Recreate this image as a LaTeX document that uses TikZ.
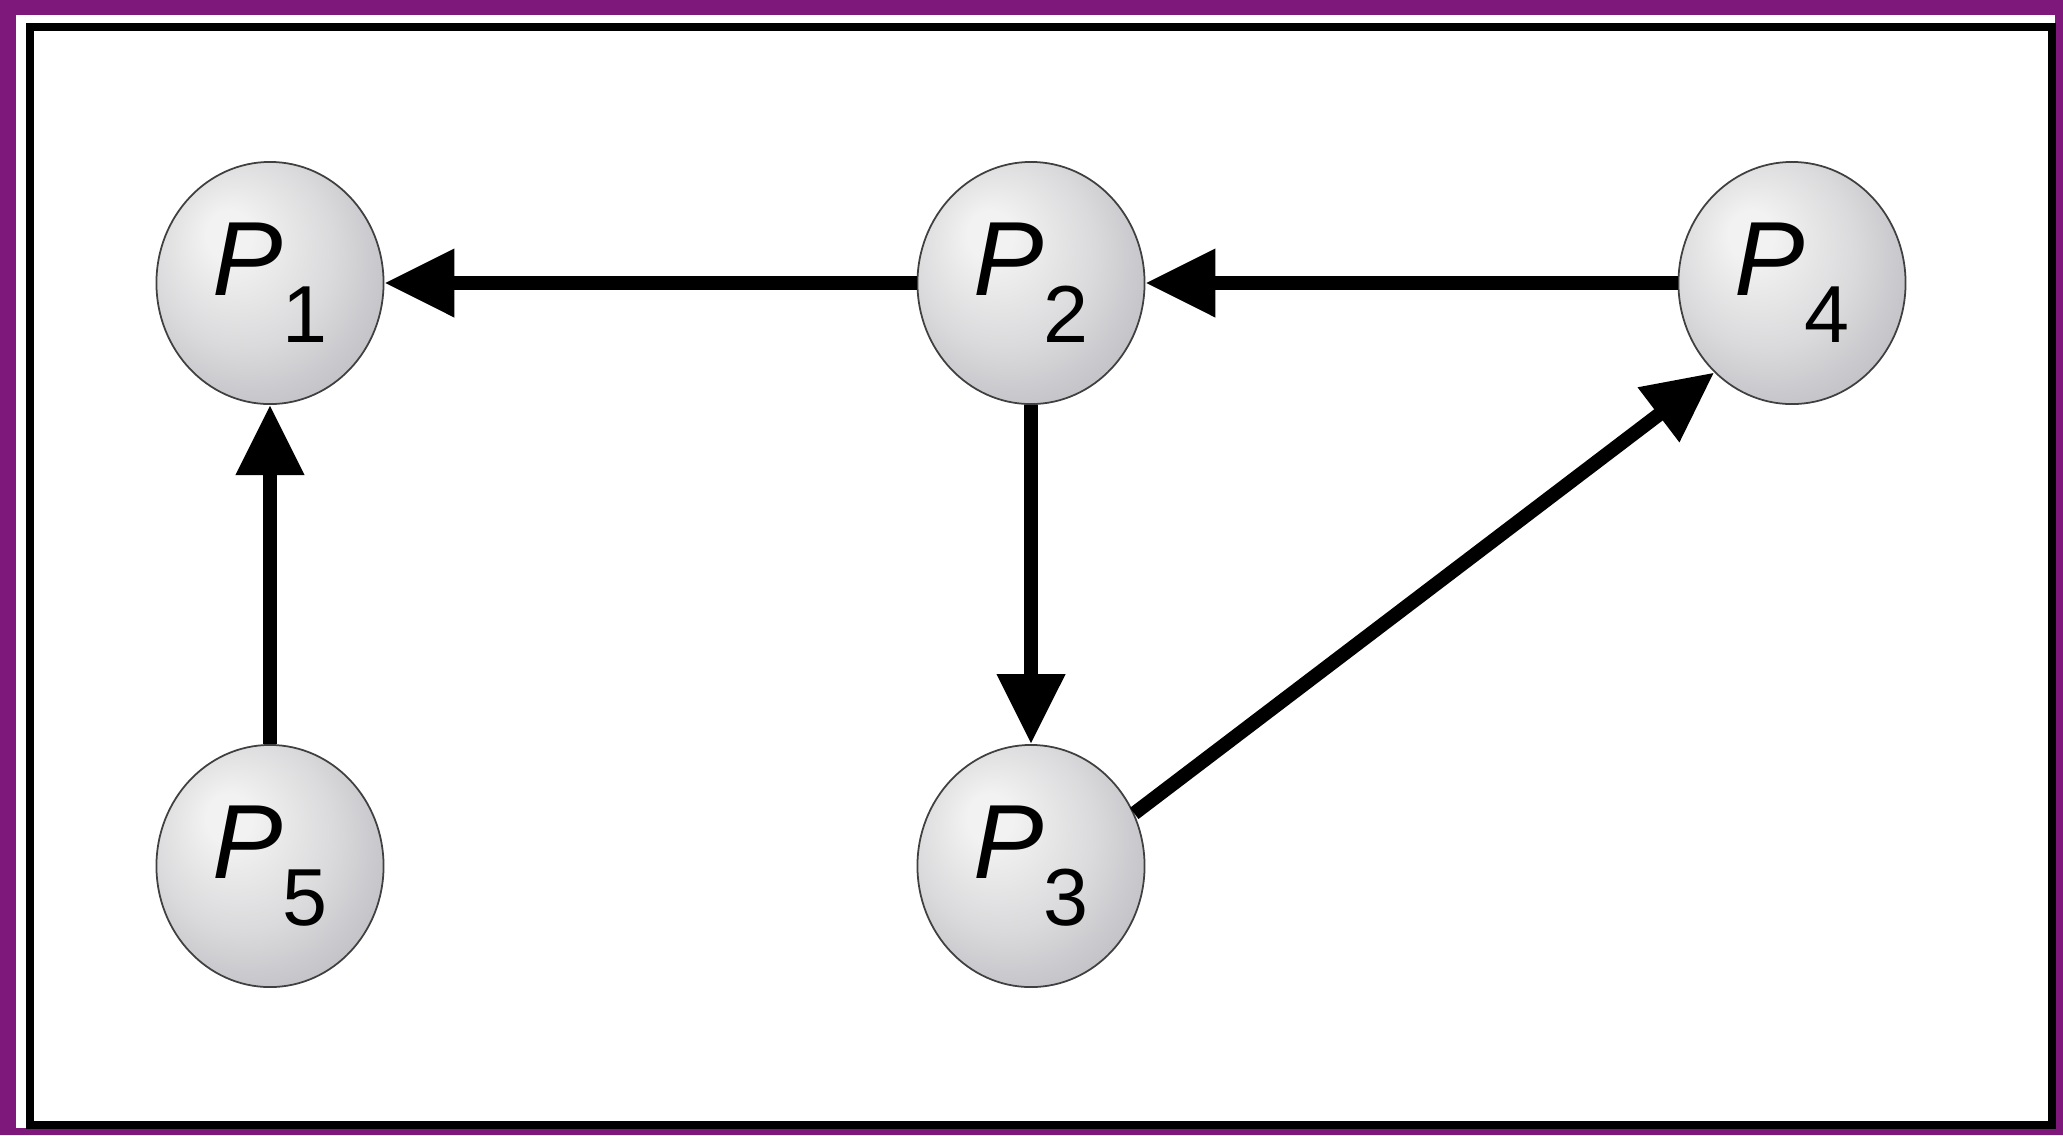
\documentclass[tikz,border=0pt]{standalone}
\usepackage{fontspec}
\setmainfont{Liberation Sans}
\usepackage{tikz}
\usetikzlibrary{shapes.geometric,arrows.meta,positioning}

\definecolor{framepurple}{RGB}{126,24,122}
\definecolor{sphlite}{RGB}{242,242,242}
\definecolor{sphmid}{RGB}{218,218,220}
\definecolor{sphedge}{RGB}{188,188,194}

% soft sphere look, lit from the upper left
\pgfdeclareradialshading{sphere}{\pgfpoint{-10bp}{11bp}}{%
  color(0bp)=(sphlite); color(5bp)=(sphlite); color(20bp)=(sphmid);
  color(34bp)=(sphedge); color(50bp)=(sphedge)}

\newcommand{\procname}[1]{{\itshape P}\raisebox{-0.47cm}{\fontsize{23}{23}\selectfont\upshape #1}}

\begin{document}
\begin{tikzpicture}[
    x=0.01cm, y=-0.01cm,
    proc/.style={ellipse, draw=black!75, line width=0.5pt, shading=sphere,
                 minimum width=2.27cm, minimum height=2.42cm, inner sep=0pt,
                 font=\fontsize{30}{30}\selectfont},
    arrow/.style={-{Triangle[length=0.7cm,width=0.65cm]}, line width=0.14cm}
]

\useasboundingbox (0,0) rectangle (2063,1135);

% Frame
\fill[framepurple] (0,0) rectangle (2063,1135);
\fill[white] (16,15) rectangle (2055,1128);
\draw[line width=0.08cm] (30,27) rectangle (2052,1125);

% Processes
\node[proc] (p1) at (270,283) {\procname{1}};
\node[proc] (p2) at (1031,283) {\procname{2}};
\node[proc] (p4) at (1792,283) {\procname{4}};
\node[proc] (p5) at (270,866) {\procname{5}};
\node[proc] (p3) at (1031,866) {\procname{3}};

% Arrows
\draw[arrow] (p2) -- (p1);
\draw[arrow] (p4) -- (p2);
\draw[arrow] (p5) -- (p1);
\draw[arrow] (p2) -- (p3);
\draw[arrow] (p3.27) -- (p4.229);

\end{tikzpicture}
\end{document}
